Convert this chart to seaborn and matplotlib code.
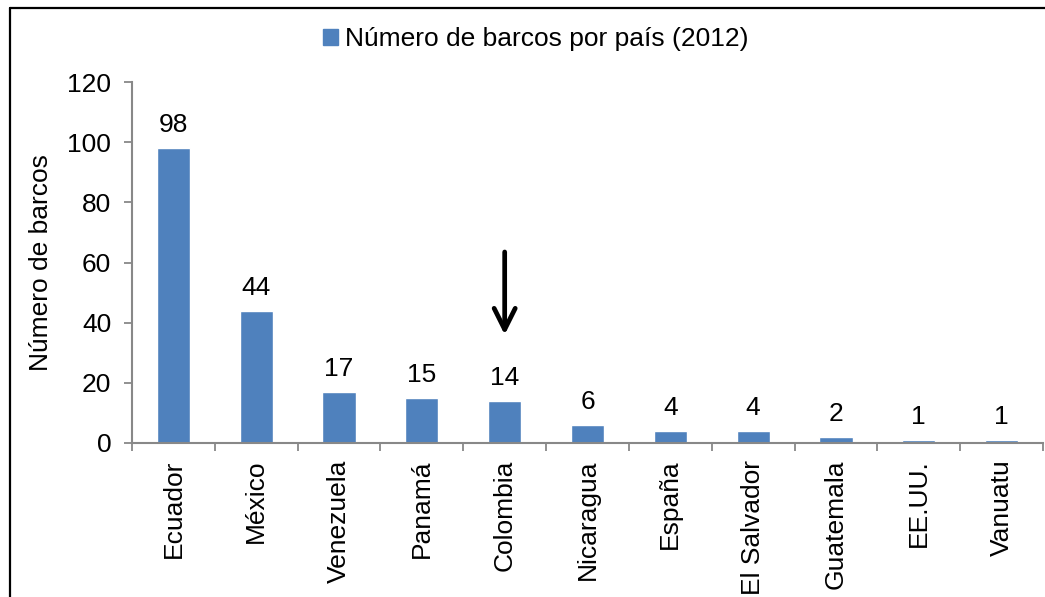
import matplotlib
matplotlib.use("Agg")
import matplotlib.pyplot as plt
import matplotlib.patches as mpatches
from matplotlib.lines import Line2D
import seaborn as sns
import pandas as pd

paises = ["Ecuador", "México", "Venezuela", "Panamá", "Colombia", "Nicaragua",
          "España", "El Salvador", "Guatemala", "EE.UU.", "Vanuatu"]
barcos = [98, 44, 17, 15, 14, 6, 4, 4, 2, 1, 1]
serie = "Número de barcos por país (2012)"
eje_y = "Número de barcos"
y_ticks = [0, 20, 40, 60, 80, 100, 120]
flecha_pais = "Colombia"
flecha_desde, flecha_hasta = 63.5, 36

sns.set_style("ticks")
plt.rcParams["font.family"] = ["Liberation Sans", "DejaVu Sans"]
plt.rcParams["text.color"] = "black"
plt.rcParams["axes.labelcolor"] = "black"
plt.rcParams["xtick.labelcolor"] = "black"
plt.rcParams["ytick.labelcolor"] = "black"

fs = 19
color = "#4F81BD"
gris = "#888888"

fig = plt.figure(figsize=(10.45, 5.97), dpi=100)
ax = fig.add_axes([132/1045, 1 - 443/597, (1043 - 132)/1045, (443 - 82)/597])

df = pd.DataFrame({"pais": paises, "barcos": barcos})
sns.barplot(data=df, x="pais", y="barcos", color=color, width=0.4,
            saturation=1, ax=ax, order=paises)

ax.bar_label(ax.containers[0], labels=[str(v) for v in barcos],
             padding=8, fontsize=fs, color="black")

ax.set_ylim(0, 120)
ax.set_yticks(y_ticks)
ax.set_xlim(-0.5, len(paises) - 0.5)
ax.set_xlabel("")
ax.set_ylabel(eje_y, fontsize=fs, color="black")
ax.yaxis.set_label_coords(-0.087, 0.5)

ax.tick_params(axis="y", labelsize=fs, length=6, width=1.3, color=gris, pad=9,
               direction="out", labelcolor="black")
ax.tick_params(axis="x", which="major", labelsize=fs, length=0, pad=12,
               labelrotation=90, labelcolor="black")
ax.set_xticks([i + 0.5 for i in range(-1, len(paises))], minor=True)
ax.tick_params(axis="x", which="minor", length=6, width=1.3, color=gris, direction="out")

for s in ["top", "right"]:
    ax.spines[s].set_visible(False)
for s in ["left", "bottom"]:
    ax.spines[s].set_color(gris)
    ax.spines[s].set_linewidth(1.5)

xi = paises.index(flecha_pais)
ax.annotate("", xy=(xi, flecha_hasta), xytext=(xi, flecha_desde),
            arrowprops=dict(arrowstyle="->", lw=3.4, color="black",
                            mutation_scale=38, shrinkA=0, shrinkB=0))

handle = mpatches.Patch(color=color, label=serie)
fig.legend(handles=[handle], loc="center", bbox_to_anchor=(536/1045, 1 - 39/597),
           frameon=False, fontsize=fs, handlelength=0.55, handleheight=0.55,
           handletextpad=0.3, borderpad=0, labelcolor="black")

# outer frame (cropped chart border)
fig.add_artist(Line2D([10/1045, 1.0], [1 - 8/597, 1 - 8/597], transform=fig.transFigure,
                      color="black", lw=1.6))
fig.add_artist(Line2D([10/1045, 10/1045], [0, 1 - 8/597], transform=fig.transFigure,
                      color="black", lw=1.6))

fig.savefig("out.png", dpi=100)
